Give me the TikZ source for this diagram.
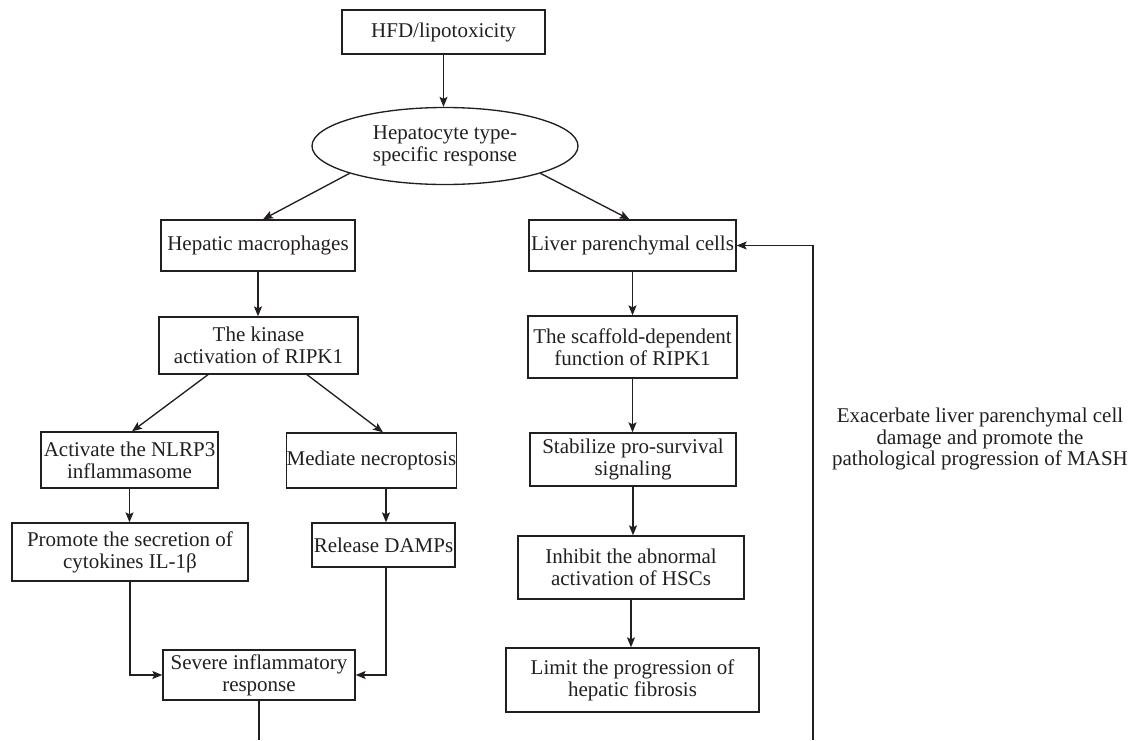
\documentclass[tikz,border=0pt]{standalone}
\usepackage{fontspec}
\setmainfont{Liberation Serif}
\usetikzlibrary{shapes.geometric,arrows.meta,calc}
\newdimen\pxu \pxu=0.75pt
\tikzset{
  lc/.style={draw={rgb,255:red,35;green,31;blue,32}, line width=1pt},
  box/.style={lc, rectangle, inner sep=0pt, align=center, text={rgb,255:red,35;green,31;blue,32}},
  oval/.style={lc, ellipse, inner sep=0pt, align=center, text={rgb,255:red,35;green,31;blue,32}},
  arr/.style={lc, -{Stealth[length=7.5pt,width=6pt,inset=1.5pt]}},
  plain/.style={lc},
  lbl/.style={align=center, inner sep=0pt, text={rgb,255:red,35;green,31;blue,32}},
}
\begin{document}
\begin{tikzpicture}[x=0.75pt,y=-0.75pt,font=\fontsize{15.75}{16.5}\selectfont]
\useasboundingbox (0,0) rectangle (1136,740);
\node[box, minimum width=203\pxu, minimum height=44\pxu] (hfd) at (443.5,32) {HFD/lipotoxicity};
\node[oval, minimum width=266\pxu, minimum height=77\pxu] (ell) at (445,146) {Hepatocyte type-\\specific response};
\node[box, minimum width=194\pxu, minimum height=51\pxu] (hm) at (258,245.5) {Hepatic macrophages};
\node[box, minimum width=207\pxu, minimum height=51\pxu] (lpc) at (632.5,245.5) {Liver parenchymal cells};
\node[box, minimum width=199\pxu, minimum height=57\pxu] (kin) at (258.5,345.5) {The kinase\\activation of RIPK1};
\node[box, minimum width=209\pxu, minimum height=62\pxu] (sc) at (632.5,347) {The scaffold-dependent\\function of RIPK1};
\node[box, minimum width=177\pxu, minimum height=56\pxu] (nl) at (129.5,460) {Activate the NLRP3\\inflammasome};
\node[box, minimum width=167\pxu, minimum height=55\pxu] (med) at (371.5,460.5) {Mediate necroptosis};
\node[box, minimum width=206\pxu, minimum height=53\pxu] (st) at (633,459.5) {Stabilize pro-survival\\signaling};
\node[box, minimum width=236\pxu, minimum height=58\pxu] (pr) at (130,552) {Promote the secretion of\\cytokines IL-1β};
\node[box, minimum width=143\pxu, minimum height=44\pxu] (rel) at (383.5,545) {Release DAMPs};
\node[box, minimum width=226\pxu, minimum height=63\pxu] (inh) at (631,567.5) {Inhibit the abnormal\\activation of HSCs};
\node[box, minimum width=192\pxu, minimum height=50\pxu] (sev) at (259,675) {Severe inflammatory\\response};
\node[box, minimum width=253\pxu, minimum height=64\pxu] (lim) at (632.5,680) {Limit the progression of\\hepatic fibrosis};
\node[lbl, font=\fontsize{15.75}{16.3}\selectfont] (note) at (980,439) {Exacerbate liver parenchymal cell\\damage and promote the\\pathological progression of MASH};
\coordinate (bot1) at (259,740);
\coordinate (bot2) at (813,740);
% connectors
\draw[arr] (hfd.south) -- (hfd.south |- ell.north);
\draw[arr] (ell.196) -- ($(hm.north)+(5,0)$);
\draw[arr] (ell.-16) -- ($(lpc.north)+(-3,0)$);
\draw[arr] (hm.south) -- (hm.south |- kin.north);
\draw[arr] ($(kin.south)+(-50.5,0)$) -- ($(nl.north)+(2.5,0)$);
\draw[arr] ($(kin.south)+(48.5,0)$) -- ($(med.north)+(11.5,0)$);
\draw[arr] (nl.south) -- (nl.south |- pr.north);
\draw[arr] ($(med.south)+(14.5,0)$) -- ($(rel.north)+(2.5,0)$);
\draw[arr] (pr.south) |- (sev.west);
\draw[arr] ($(rel.south)+(2.5,0)$) |- (sev.east);
\draw[plain] (sev.south) -- (bot1);
\draw[arr] (lpc.south) -- (lpc.south |- sc.north);
\draw[arr] (sc.south) -- (sc.south |- st.north);
\draw[arr] (st.south) -- (st.south |- inh.north);
\draw[arr] (inh.south) -- (inh.south |- lim.north);
\draw[arr] (bot2) |- (lpc.east);
\end{tikzpicture}
\end{document}
